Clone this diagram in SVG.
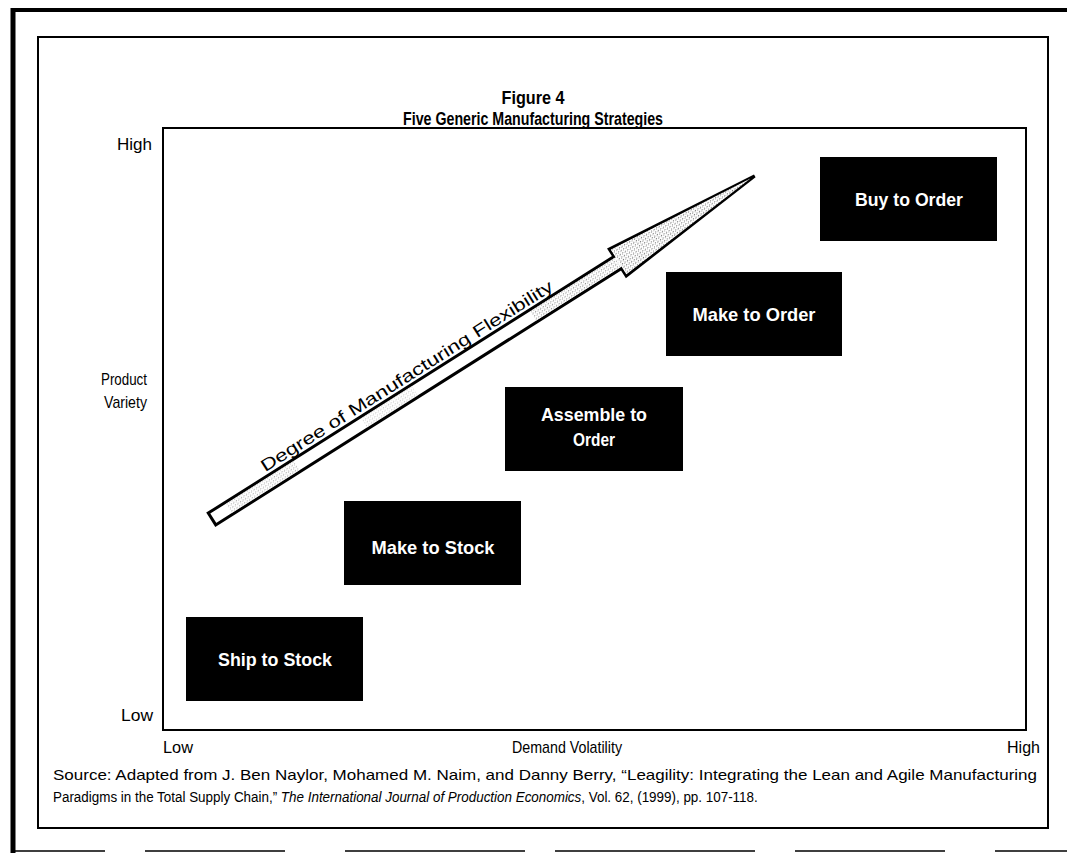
<svg xmlns="http://www.w3.org/2000/svg" width="1067" height="853" viewBox="0 0 1067 853">
<defs>
<style>
.frame{fill:none;stroke:#000}
.lbl{font-family:"Liberation Sans",Arial,sans-serif;font-size:17px;fill:#000}
.ttl{font-family:"Liberation Sans",Arial,sans-serif;font-size:18px;font-weight:bold;fill:#000;text-anchor:middle}
.box{fill:#000}
.btxt{font-family:"Liberation Sans",Arial,sans-serif;font-size:19px;font-weight:bold;fill:#fff;text-anchor:middle}
.src{font-family:"Liberation Sans",Arial,sans-serif;font-size:15px;fill:#000}
.it{font-style:italic}
</style>
<pattern id="stip" width="3" height="3" patternUnits="userSpaceOnUse">
<rect width="3" height="3" fill="#fff"/>
<rect width="1" height="1" fill="#777"/>
<rect x="2" y="1" width="1" height="1" fill="#aaa"/>
</pattern>
</defs>
<rect width="1067" height="853" fill="#fff"/>
<g id="outer-frame">
<line x1="11" y1="10" x2="1067" y2="10" stroke="#000" stroke-width="4"/>
<line x1="13" y1="8" x2="13" y2="853" stroke="#000" stroke-width="5"/>
<line x1="15" y1="851" x2="1067" y2="851" stroke="#000" stroke-width="1.5" stroke-dasharray="90 40 140 60 180 30 200 40 150 50"/>
</g>
<rect id="inner-frame" class="frame" x="38" y="37" width="1010" height="791" stroke-width="2"/>
<g id="title">
<text class="ttl" x="533" y="104" textLength="63" lengthAdjust="spacingAndGlyphs">Figure 4</text>
<text class="ttl" x="533" y="125" textLength="260" lengthAdjust="spacingAndGlyphs">Five Generic Manufacturing Strategies</text>
</g>
<rect id="plot-frame" class="frame" x="163" y="128" width="863" height="602" stroke-width="2"/>
<g id="axis-labels">
<text class="lbl" x="117" y="150" textLength="35" lengthAdjust="spacingAndGlyphs">High</text>
<text class="lbl" x="101" y="385" textLength="46" lengthAdjust="spacingAndGlyphs">Product</text>
<text class="lbl" x="104" y="408" textLength="43" lengthAdjust="spacingAndGlyphs">Variety</text>
<text class="lbl" x="121" y="721" textLength="32" lengthAdjust="spacingAndGlyphs">Low</text>
<text class="lbl" x="163" y="753" textLength="30" lengthAdjust="spacingAndGlyphs">Low</text>
<text class="lbl" x="512" y="753" textLength="110" lengthAdjust="spacingAndGlyphs">Demand Volatility</text>
<text class="lbl" x="1007" y="753" textLength="33" lengthAdjust="spacingAndGlyphs">High</text>
</g>
<g id="connectors">
<g transform="translate(212,519) rotate(-32.3)">
<polygon points="0,-7 480,-7 480,-16 642,0 480,16 480,7 0,7" fill="#fff" stroke="#000" stroke-width="3" stroke-linejoin="miter"/>
<polygon points="481,-14.5 637,0 481,14.5" fill="url(#stip)"/>
<rect x="380" y="-5.5" width="100" height="11" fill="url(#stip)" opacity="0.8"/>
<rect x="20" y="-5.5" width="80" height="11" fill="url(#stip)" opacity="0.6"/>
<rect x="180" y="-5.5" width="60" height="11" fill="url(#stip)" opacity="0.4"/>
<text class="lbl" x="70" y="-11" textLength="342" lengthAdjust="spacingAndGlyphs">Degree of Manufacturing Flexibility</text>
</g>
</g>
<g id="ship-to-stock">
<rect class="box" x="186" y="617" width="177" height="84"/>
<text class="btxt" x="275" y="666" textLength="114" lengthAdjust="spacingAndGlyphs">Ship to Stock</text>
</g>
<g id="make-to-stock">
<rect class="box" x="344" y="501" width="177" height="84"/>
<text class="btxt" x="433" y="554" textLength="123" lengthAdjust="spacingAndGlyphs">Make to Stock</text>
</g>
<g id="assemble-to-order">
<rect class="box" x="505" y="387" width="178" height="84"/>
<text class="btxt" x="594" y="421" textLength="106" lengthAdjust="spacingAndGlyphs">Assemble to</text>
<text class="btxt" x="594" y="446" textLength="42" lengthAdjust="spacingAndGlyphs">Order</text>
</g>
<g id="make-to-order">
<rect class="box" x="666" y="272" width="176" height="84"/>
<text class="btxt" x="754" y="321" textLength="123" lengthAdjust="spacingAndGlyphs">Make to Order</text>
</g>
<g id="buy-to-order">
<rect class="box" x="820" y="157" width="177" height="84"/>
<text class="btxt" x="909" y="206" textLength="108" lengthAdjust="spacingAndGlyphs">Buy to Order</text>
</g>
<g id="source">
<text class="src" x="53" y="780" textLength="984" lengthAdjust="spacingAndGlyphs">Source: Adapted from J. Ben Naylor, Mohamed M. Naim, and Danny Berry, “Leagility: Integrating the Lean and Agile Manufacturing</text>
<text class="src" transform="translate(53,802) scale(0.895,1)">Paradigms in the Total Supply Chain,” <tspan class="it">The International Journal of Production Economics</tspan>, Vol. 62, (1999), pp. 107-118.</text>
</g>
</svg>
